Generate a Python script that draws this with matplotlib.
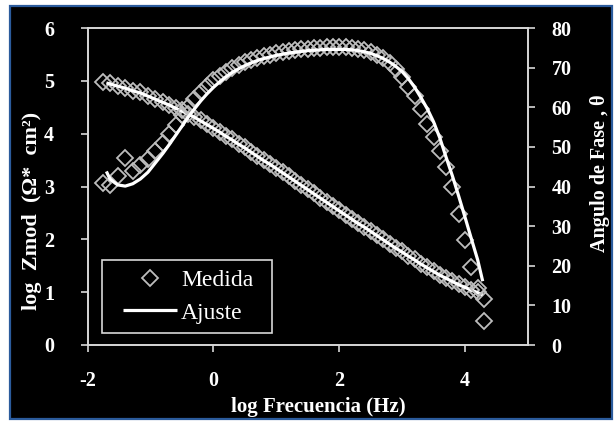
import matplotlib
matplotlib.use("Agg")
import matplotlib.pyplot as plt
from matplotlib.lines import Line2D
from matplotlib.patches import Rectangle
from matplotlib.legend_handler import HandlerLine2D

# --- measured impedance spectrum (log frequency in Hz) ---
log_f = [-1.75, -1.64, -1.52, -1.40, -1.28, -1.16, -1.04, -0.92,
         -0.80, -0.70, -0.60, -0.50, -0.40, -0.30, -0.20, -0.10,
         0.00, 0.10, 0.20, 0.30, 0.40, 0.50, 0.60, 0.70, 0.80, 0.90,
         1.00, 1.10, 1.20, 1.30, 1.40, 1.50, 1.60, 1.70, 1.80, 1.90,
         2.00, 2.10, 2.20, 2.30, 2.40, 2.50, 2.60, 2.70, 2.80, 2.90,
         3.00, 3.10, 3.20, 3.30, 3.40, 3.50, 3.60, 3.70, 3.80, 3.90,
         4.00, 4.10, 4.20, 4.30]

logz_medida = [4.97, 4.95, 4.90, 4.87, 4.81, 4.78, 4.72, 4.66,
               4.60, 4.55, 4.49, 4.44, 4.38, 4.32, 4.25, 4.18,
               4.11, 4.04, 3.96, 3.89, 3.81, 3.74, 3.66, 3.58, 3.50, 3.43,
               3.35, 3.27, 3.19, 3.11, 3.03, 2.95, 2.87, 2.79, 2.71, 2.63,
               2.55, 2.47, 2.39, 2.31, 2.24, 2.16, 2.08, 2.00, 1.92, 1.84,
               1.77, 1.69, 1.62, 1.54, 1.47, 1.40, 1.33, 1.27, 1.21, 1.15,
               1.10, 1.05, 1.00, 0.45]

fase_medida = [40.9, 40.5, 42.6, 47.2, 44.0, 45.5, 47.0, 49.0,
               51.0, 53.3, 55.6, 58.0, 60.0, 62.0, 63.8, 65.4,
               66.8, 68.0, 69.0, 69.9, 70.6, 71.3, 71.9, 72.4, 72.9, 73.3,
               73.6, 73.9, 74.2, 74.4, 74.6, 74.8, 74.9, 75.0, 75.1, 75.1,
               75.1, 75.1, 75.0, 74.8, 74.5, 74.0, 73.3, 72.4, 71.2, 69.6,
               67.6, 65.2, 62.8, 59.6, 55.8, 52.6, 49.0, 45.0, 39.8, 33.0,
               26.5, 19.8, 14.5, 11.7]

# --- equivalent-circuit fit ---
log_f_ajuste = [-1.70, -1.64, -1.52, -1.40, -1.28, -1.16, -1.04, -0.92,
                -0.80, -0.70, -0.60, -0.50, -0.40, -0.30, -0.20, -0.10,
                0.00, 0.10, 0.20, 0.30, 0.40, 0.50, 0.60, 0.70, 0.80, 0.90,
                1.00, 1.10, 1.20, 1.30, 1.40, 1.50, 1.60, 1.70, 1.80, 1.90,
                2.00, 2.10, 2.20, 2.30, 2.40, 2.50, 2.60, 2.70, 2.80, 2.90,
                3.00, 3.10, 3.20, 3.30, 3.40, 3.50, 3.60, 3.70, 3.80, 3.90,
                4.00, 4.10, 4.20, 4.28]

logz_ajuste = [4.96, 4.94, 4.90, 4.86, 4.81, 4.77, 4.71, 4.65,
               4.59, 4.54, 4.48, 4.43, 4.37, 4.31, 4.24, 4.17,
               4.10, 4.03, 3.95, 3.88, 3.80, 3.73, 3.65, 3.57, 3.49, 3.42,
               3.34, 3.26, 3.18, 3.10, 3.02, 2.94, 2.86, 2.78, 2.70, 2.62,
               2.54, 2.46, 2.38, 2.30, 2.23, 2.15, 2.07, 1.99, 1.91, 1.83,
               1.76, 1.68, 1.61, 1.53, 1.46, 1.39, 1.32, 1.26, 1.20, 1.14,
               1.09, 1.04, 0.99, 0.95]

fase_ajuste = [43.8, 41.8, 40.4, 40.1, 40.7, 41.9, 43.6, 46.0,
               48.4, 50.6, 52.9, 55.2, 57.5, 59.6, 61.6, 63.4,
               65.0, 66.4, 67.7, 68.8, 69.7, 70.5, 71.2, 71.8, 72.3, 72.7,
               73.1, 73.4, 73.7, 73.9, 74.1, 74.3, 74.4, 74.5, 74.6, 74.6,
               74.6, 74.6, 74.5, 74.3, 74.0, 73.6, 73.0, 72.3, 71.4, 70.3,
               69.0, 67.2, 65.0, 62.4, 59.6, 56.3, 52.2, 47.3, 42.6, 37.5,
               32.2, 26.8, 21.5, 16.1]

x_ticks = [-2, 0, 2, 4]
z_ticks = [0, 1, 2, 3, 4, 5, 6]
fase_ticks = [0, 10, 20, 30, 40, 50, 60, 70, 80]

SERIF = ["Liberation Serif", "DejaVu Serif"]
plt.rcParams["font.family"] = SERIF
plt.rcParams["axes.unicode_minus"] = False
WHITE = "white"
AXIS_GREY = "#d8d8d8"
MARKER_EDGE = "#bdbdbd"

W, H = 615, 423
fig = plt.figure(figsize=(W / 100, H / 100), dpi=100, facecolor="white")

# dark panel with a thin blue frame
fig.patches.append(Rectangle((10 / W, 1 - 418.5 / H), 602 / W, 412 / H,
                             transform=fig.transFigure, facecolor="black",
                             edgecolor="#2b5b9c", linewidth=1.6, zorder=-5))

ax = fig.add_axes([87.5 / W, 1 - 345 / H, 440.5 / W, 317 / H])
ax.set_facecolor("black")
ax2 = ax.twinx()

mk = dict(marker="D", markersize=8, markerfacecolor="none",
          markeredgecolor=MARKER_EDGE, markeredgewidth=1.3, linestyle="none")
ln = dict(color=WHITE, linewidth=2.3, solid_capstyle="butt")

ax.plot(log_f, logz_medida, **mk, zorder=2)
ax.plot(log_f_ajuste, logz_ajuste, **ln, zorder=3)
ax2.plot(log_f, fase_medida, **mk, zorder=2)
ax2.plot(log_f_ajuste, fase_ajuste, **ln, zorder=3)

ax.set_xlim(-2, 5)
ax.set_ylim(0, 6)
ax2.set_ylim(0, 80)
ax.set_xticks(x_ticks)
ax.set_yticks(z_ticks)
ax2.set_yticks(fase_ticks)

for a in (ax, ax2):
    for s in a.spines.values():
        s.set_color(AXIS_GREY)
        s.set_linewidth(1.2)
    a.tick_params(colors=AXIS_GREY, labelcolor=WHITE, direction="out",
                  length=5, width=1.2, labelsize=14.5)
    for lab in a.get_xticklabels() + a.get_yticklabels():
        lab.set_fontweight("bold")
ax.tick_params(axis="x", pad=14)
ax.tick_params(axis="y", pad=19)
ax2.tick_params(axis="y", pad=12)

# axis titles
fig.text(318 / W, 1 - 407 / H, "log Frecuencia (Hz)", color=WHITE,
         fontsize=15, fontweight="bold", ha="center", va="center")
fig.text(32 / W, 1 - 211 / H, "log  Zmod  (Ω*  cm²)", color=WHITE,
         fontsize=16, fontweight="bold", ha="center", va="center",
         rotation=90)
fig.text(600 / W, 1 - 173 / H, "Angulo de Fase , θ", color=WHITE,
         fontsize=14.5, fontweight="bold", ha="center", va="center",
         rotation=90)

handles = [Line2D([], [], **mk),
           Line2D([], [], **ln)]
inset_handler = HandlerLine2D(xpad=0.49)
leg = ax2.legend(handles, ["Medida", "Ajuste"], loc="lower left",
                 bbox_to_anchor=(0.033, 0.038, 0.386, 0.233), mode="expand",
                 borderaxespad=0, fontsize=17,
                 frameon=True, fancybox=False, handlelength=2.77,
                 handletextpad=0.17, borderpad=0.4, labelspacing=0.45,
                 handler_map={Line2D: inset_handler})
fr = leg.get_frame()
fr.set_facecolor("black")
fr.set_edgecolor(AXIS_GREY)
fr.set_linewidth(1.2)
fr.set_alpha(1)
for t in leg.get_texts():
    t.set_color(WHITE)

fig.savefig("out.png", dpi=100, facecolor="white")
